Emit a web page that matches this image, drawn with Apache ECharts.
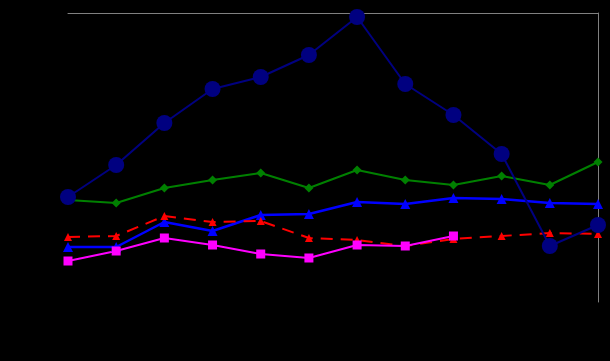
<!DOCTYPE html>
<html><head><meta charset="utf-8">
<script src="https://cdn.jsdelivr.net/npm/echarts@6/dist/echarts.min.js"></script>
<style>html,body{margin:0;padding:0;background:#000}#c{width:610px;height:361px}</style>
</head><body><div id="c"></div>
<script>
var categories = ['1','2','3','4','5','6','7','8','9','10','11','12'];
var navy = [105, 137, 179, 213, 225, 247, 285, 218, 187, 148, 56, 77];
var green = [102, 99, 114, 122, 129, 114, 132, 122, 117, 126, 117, 140];
var blue = [55, 55, 80, 71, 87, 88, 100, 98, 104, 103, 99, 98];
var red = [65, 66, 86, 80, 81, 64, 62, 56, 63, 66, 69, 68];
var magenta = [41, 51, 64, 57, 48, 44, 57, 56, 66, null, null, null];

var chart = echarts.init(document.getElementById('c'));
function s(name, data, color, symbol, size, width, type) {
  return {name: name, type: 'line', data: data, xAxisIndex: 0, yAxisIndex: 0,
    symbol: symbol, symbolSize: size, showSymbol: true,
    lineStyle: {color: color, width: width, type: type || 'solid'},
    itemStyle: {color: color}, clip: true, connectNulls: false};
}
chart.setOption({
  backgroundColor: '#000',
  animation: false,
  grid: {left: 68, right: 12, top: 13, bottom: 59},
  xAxis: [
    {type: 'category', data: categories, boundaryGap: false, position: 'bottom',
     axisLine: {show: false}, axisTick: {show: false}, axisLabel: {show: false}, splitLine: {show: false}},
    {type: 'category', data: categories, boundaryGap: false, position: 'top',
     axisLine: {show: true, onZero: false, lineStyle: {color: '#808080', width: 1}}, axisTick: {show: false}, axisLabel: {show: false}}
  ],
  yAxis: [
    {type: 'value', min: 0, max: 289, position: 'left',
     axisLine: {show: false}, axisTick: {show: false}, axisLabel: {show: false}, splitLine: {show: false}},
    {type: 'value', min: 0, max: 289, position: 'right',
     axisLine: {show: true, onZero: false, lineStyle: {color: '#808080', width: 1}}, axisTick: {show: false}, axisLabel: {show: false}, splitLine: {show: false}}
  ],
  series: [
    s('B', green, '#008000', 'diamond', 9, 2),
    s('C', blue, '#0000FF', 'triangle', 10, 2.5),
    s('D', red, '#FF0000', 'triangle', 8, 2, [12, 8]),
    s('E', magenta, '#FF00FF', 'rect', 9, 2),
    s('A', navy, '#000080', 'circle', 16, 2)
  ]
});
</script></body></html>
